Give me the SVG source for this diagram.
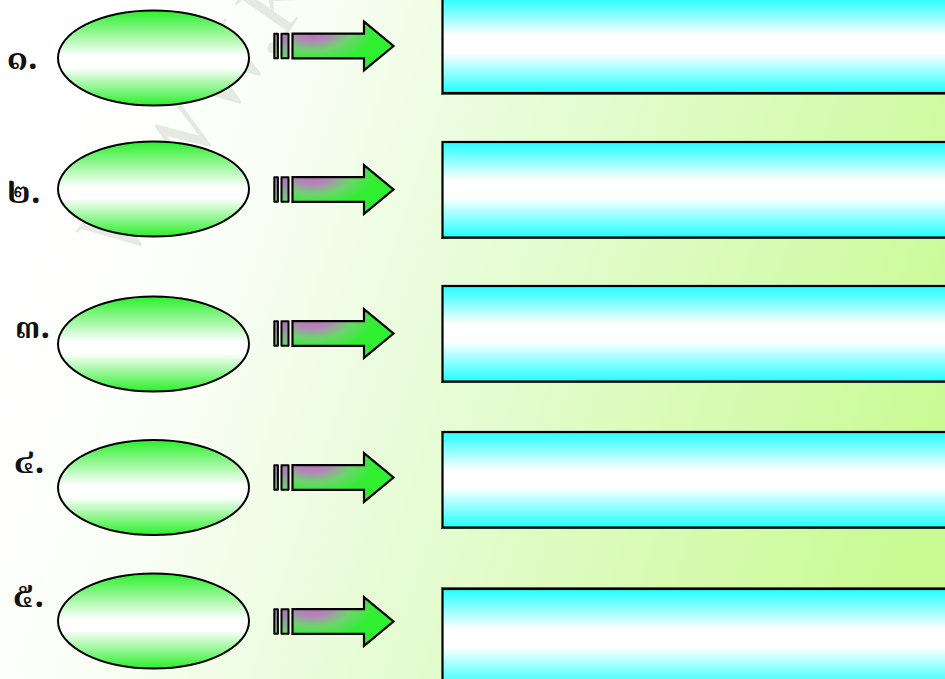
<svg xmlns="http://www.w3.org/2000/svg" width="945" height="679" viewBox="0 0 945 679">
<style>
.ell{fill:url(#ellGrad);stroke:#000;stroke-width:2}
.box{fill:url(#boxGrad);stroke:#000;stroke-width:2.2}
.shadow{fill:none;stroke:#5a6a4e;stroke-width:1}
.bar{fill:url(#barGrad);stroke:#000;stroke-width:2;stroke-linejoin:round}
.body{fill:url(#bodyGrad);stroke:#000;stroke-width:2.2;stroke-linejoin:miter}
.num{font-family:"Noto Serif Thai","Noto Sans Thai","Loma","Garuda","Noto Sans","DejaVu Sans",sans-serif;font-size:34px;font-weight:bold;fill:#111}
.wm{font-family:"Liberation Serif",serif;font-size:92px;fill:#889980;fill-opacity:0.2}
</style>
<defs>
<linearGradient id="bgGrad" x1="0" y1="0.38" x2="1" y2="0.62">
<stop offset="0" stop-color="#ffffff"/>
<stop offset="0.2" stop-color="#fbfef8"/>
<stop offset="0.46" stop-color="#e9fcda"/>
<stop offset="1" stop-color="#c9fa94"/>
</linearGradient>
<linearGradient id="ellGrad" x1="0" y1="0" x2="0" y2="1">
<stop offset="0" stop-color="#2cef2c"/>
<stop offset="0.48" stop-color="#ffffff"/>
<stop offset="0.6" stop-color="#ffffff"/>
<stop offset="1" stop-color="#2cef2c"/>
</linearGradient>
<linearGradient id="boxGrad" x1="0" y1="0" x2="0" y2="1">
<stop offset="0" stop-color="#22ffff"/>
<stop offset="0.4" stop-color="#ffffff"/>
<stop offset="0.58" stop-color="#ffffff"/>
<stop offset="1" stop-color="#22ffff"/>
</linearGradient>
<linearGradient id="barGrad" x1="0" y1="0" x2="0" y2="1">
<stop offset="0" stop-color="#b46cc4"/>
<stop offset="1" stop-color="#6cd86c"/>
</linearGradient>
<radialGradient id="bodyGrad" cx="0.2" cy="0.22" r="0.62" fx="0.2" fy="0.22">
<stop offset="0" stop-color="#bc6cc6"/>
<stop offset="0.3" stop-color="#b08ab6"/>
<stop offset="0.6" stop-color="#6ed46e"/>
<stop offset="1" stop-color="#30ee30"/>
</radialGradient>
<g id="arrowShape">
<rect class="bar" x="274.3" y="-12.3" width="3.6" height="24.6"/>
<rect class="bar" x="281.5" y="-12.3" width="7" height="24.6"/>
<path class="body" d="M292.5,-12.3 H364 V-24.3 L393.5,0 L364,24.3 V12.3 H292.5 Z"/>
</g>
</defs>

<rect id="background" x="0" y="0" width="945" height="679" fill="url(#bgGrad)"/>
<text class="wm" x="125" y="266" transform="rotate(-55 125 266)">WWW.K</text>

<g id="row1">
<text class="num" x="7" y="69">๑.</text>
<ellipse class="ell" cx="153.5" cy="58" rx="95.5" ry="47.5"/>
</g>
<g id="row2">
<text class="num" x="7" y="203">๒.</text>
<ellipse class="ell" cx="153.5" cy="189" rx="95.5" ry="47.5"/>
</g>
<g id="row3">
<text class="num" x="15" y="338">๓.</text>
<ellipse class="ell" cx="153.5" cy="344" rx="95.5" ry="47.5"/>
</g>
<g id="row4">
<text class="num" x="14" y="473">๔.</text>
<ellipse class="ell" cx="153.5" cy="487.5" rx="95.5" ry="47.5"/>
</g>
<g id="row5">
<text class="num" x="13" y="607">๕.</text>
<ellipse class="ell" cx="153.5" cy="621" rx="95.5" ry="47.5"/>
</g>

<g id="connectors">
<use href="#arrowShape" transform="translate(0,46)"/>
<use href="#arrowShape" transform="translate(0,189.5)"/>
<use href="#arrowShape" transform="translate(0,333.5)"/>
<use href="#arrowShape" transform="translate(0,477.5)"/>
<use href="#arrowShape" transform="translate(0,621.5)"/>
</g>

<g id="box1">
<line class="shadow" x1="441" y1="94.5" x2="945" y2="94.5"/>
<rect class="box" x="442.5" y="-3" width="505" height="96"/>
</g>
<g id="box2">
<line class="shadow" x1="441" y1="238.5" x2="945" y2="238.5"/>
<rect class="box" x="442.5" y="142" width="505" height="95.5"/>
</g>
<g id="box3">
<line class="shadow" x1="441" y1="382.5" x2="945" y2="382.5"/>
<rect class="box" x="442.5" y="286" width="505" height="95.5"/>
</g>
<g id="box4">
<line class="shadow" x1="441" y1="528.5" x2="945" y2="528.5"/>
<rect class="box" x="442.5" y="432" width="505" height="95.5"/>
</g>
<g id="box5">
<line class="shadow" x1="441" y1="587.5" x2="945" y2="587.5"/>
<rect class="box" x="442.5" y="589" width="505" height="100"/>
</g>
</svg>
